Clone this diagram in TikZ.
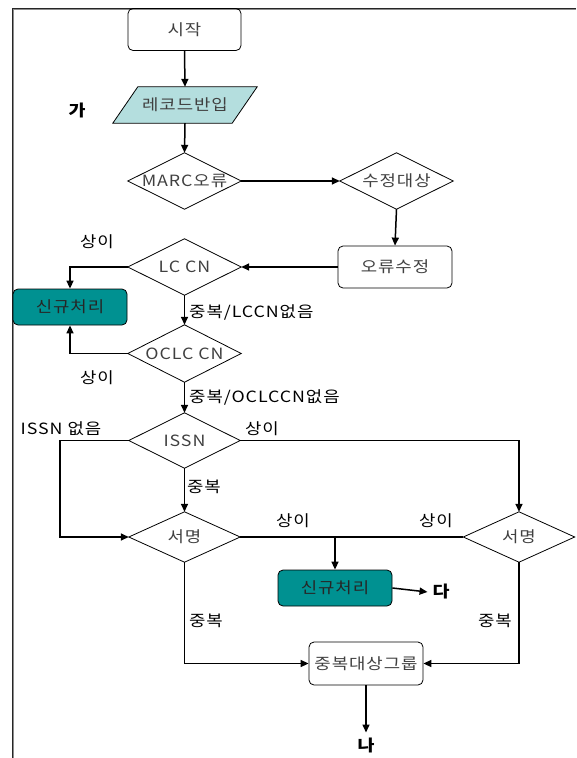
\documentclass[tikz,border=0pt]{standalone}
\usepackage{fontspec}
\setmainfont{Noto Sans CJK KR}[FakeStretch=1.15,LetterSpace=6]
\usetikzlibrary{arrows.meta,calc,backgrounds}
\definecolor{tealbox}{RGB}{0,145,145}
\definecolor{cyanl}{RGB}{180,222,222}
\definecolor{txt}{RGB}{64,64,64}
\begin{document}
\begin{tikzpicture}[x=1pt,y=-1pt,
  conn/.style={line width=1.5pt,-{Triangle[length=8pt,width=7pt]}},
  plainline/.style={line width=1.5pt},
  nfont/.style={font=\fontsize{15.5}{15.5}\selectfont},
  box/.style={draw,line width=0.8pt,rounded corners=5pt,minimum width=113pt,minimum height=42pt,inner sep=0pt,text=txt,nfont},
  newbox/.style={box,fill=tealbox,text=black!85,minimum width=114pt,minimum height=36pt},
  dec/.style={minimum width=113pt,minimum height=56pt,inner sep=0pt,text=txt,nfont},
  lbl/.style={font=\fontsize{15.5}{15.5}\selectfont,inner sep=0pt},
  bigl/.style={font=\fontsize{16}{16}\selectfont\bfseries,inner sep=0pt,outer sep=5pt}]
\useasboundingbox (0,0) rectangle (576,758);
% frame
\draw[line width=1pt,black!45] (13,9.5) -- (576,9.5);
\draw[line width=1pt,black!45] (13,9.5) -- (13,758);
\draw[line width=1pt,black!85] (12,8) -- (576,8);
\draw[line width=1pt,black!85] (12,8) -- (12,758);
% nodes
\node[box] (start) at (184.5,29.5) {시작};
\node[dec,minimum width=144pt,minimum height=36pt] (rec) at (185,105) {레코드반입};
\node[dec] (marc) at (184.5,181) {MARC오류};
\node[dec] (fix) at (396.5,181) {수정대상};
\node[box,minimum width=114pt] (err) at (395,267) {오류수정};
\node[dec] (lc) at (184.5,267) {LC CN};
\node[newbox] (nw1) at (70,307) {신규처리};
\node[dec,minimum height=57pt] (oclc) at (184.5,353.5) {OCLC CN};
\node[dec,minimum width=111pt,minimum height=55pt] (issn) at (184.5,440.5) {ISSN};
\node[dec,minimum width=111pt,minimum height=50pt] (t1) at (184.5,537) {서명};
\node[dec,minimum width=111pt,minimum height=50pt] (t2) at (519,537) {서명};
\node[newbox] (nw2) at (335,588) {신규처리};
\node[box,minimum width=114pt,minimum height=43pt] (grp) at (366,663.5) {중복대상그룹};
% parallelogram and diamonds
\begin{pgfonlayer}{background}
\draw[line width=0.8pt,fill=cyanl] ($(rec.north west)+(25,0)$) -- (rec.north east) -- ($(rec.south east)+(-25,0)$) -- (rec.south west) -- cycle;
\end{pgfonlayer}
\foreach \n in {marc,fix,lc,oclc,issn,t1,t2}
  \draw[line width=0.8pt] (\n.west) -- (\n.north) -- (\n.east) -- (\n.south) -- cycle;
% labels
\node[bigl] (ga) at (77,110) {가};
\node[bigl] (da) at (441,592) {다};
\node[bigl] (na) at (366,745) {나};
\node[lbl] (l1) at (97,242) {상이};
\node[lbl,anchor=west] (l2) at (189,312) {중복/LCCN없음};
\node[lbl] (l3) at (97,378) {상이};
\node[lbl,anchor=west] (l4) at (189,397) {중복/OCLCCN없음};
\node[lbl] (l5) at (61,429) {ISSN 없음};
\node[lbl] (l6) at (262,429) {상이};
\node[lbl] (l7) at (204,487) {중복};
\node[lbl] (l8) at (293,521) {상이};
\node[lbl] (l9) at (436,521) {상이};
\node[lbl] (l10) at (206,621) {중복};
\node[lbl] (l11) at (495,621) {중복};
% connectors
\coordinate (c1) at (60,440.5);
\coordinate (c2) at (335,537);
\draw[conn] (start.south) -- (rec.north);
\draw[conn] (rec.south) -- (marc.north);
\draw[conn] (marc.east) -- (fix.west);
\draw[conn] (fix.south) -- (err.north);
\draw[conn] (err.west) -- (lc.east);
\draw[conn] (lc.west) -| (nw1.north);
\draw[conn] (lc.south) -- (oclc.north);
\draw[conn] (oclc.west) -| (nw1.south);
\draw[conn] (oclc.south) -- (issn.north);
\draw[conn] (issn.west) -- (c1) |- (t1.west);
\draw[conn] (issn.east) -| (t2.north);
\draw[conn] (issn.south) -- (t1.north);
\draw[plainline] (t1.east) -- (t2.west);
\draw[conn] (c2) -- (nw2.north);
\draw[conn] (nw2.east) -- (da.west);
\draw[conn] (t1.south) |- (grp.west);
\draw[conn] (t2.south) |- (grp.east);
\draw[conn] (grp.south) -- (na.north);
\end{tikzpicture}
\end{document}
